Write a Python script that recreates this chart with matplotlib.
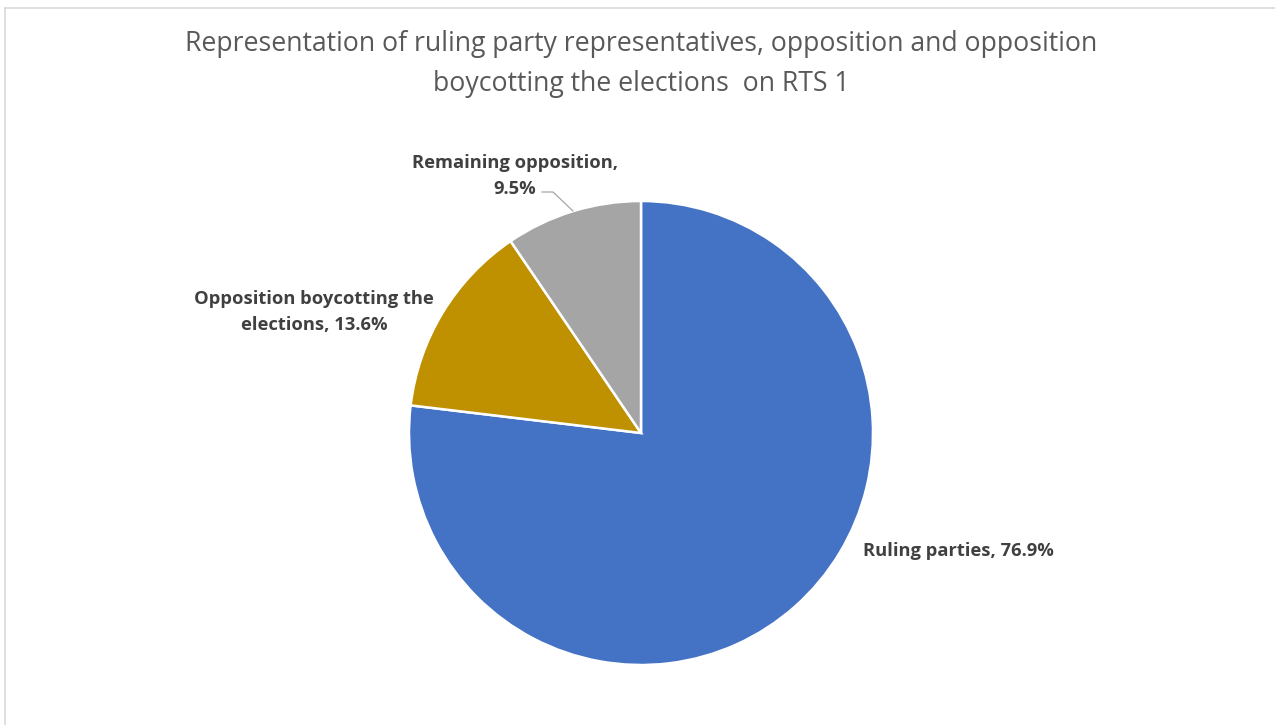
import matplotlib.pyplot as plt
from matplotlib.lines import Line2D

categories = ["Ruling parties", "Opposition boycotting the\nelections", "Remaining opposition,\n"]
shares = [76.9, 13.6, 9.5]
colors = ["#4472C4", "#BF9000", "#A5A5A5"]
title = ("Representation of ruling party representatives, opposition and opposition\n"
         "boycotting the elections  on RTS 1")

plt.rcParams['font.family'] = ['Open Sans', 'DejaVu Sans']

W, H = 1275, 725
fig = plt.figure(figsize=(W / 100, H / 100), dpi=100)
fig.patch.set_facecolor("white")

# pie centre and radius in pixels
cx, cy, r = 641, 433, 232
ax = fig.add_axes([(cx - r) / W, (H - cy - r) / H, 2 * r / W, 2 * r / H])
ax.pie(shares, colors=colors, startangle=90, counterclock=False,
       wedgeprops=dict(edgecolor="white", linewidth=1.8), radius=1)
ax.set_xlim(-1, 1)
ax.set_ylim(-1, 1)
ax.set_aspect("equal")
ax.axis("off")

lbl = dict(fontsize=13.2, fontweight="bold", color="#404040")
fig.text(863 / W, 1 - 551 / H, f"{categories[0]}, {shares[0]}%", ha="left", va="center", **lbl)
fig.text(314 / W, 1 - 312 / H, f"{categories[1]}, {shares[1]}%", ha="center", va="center",
         linespacing=1.55, **lbl)
fig.text(515 / W, 1 - 176 / H, f"{categories[2]}{shares[2]}%", ha="center", va="center",
         linespacing=1.55, **lbl)

# leader line for the small slice
fig.add_artist(Line2D([542 / W, 553 / W, 573 / W], [1 - 192 / H, 1 - 192 / H, 1 - 211 / H],
                      color="#A6A6A6", lw=0.9))

fig.text(641 / W, 1 - 64 / H, title, ha="center", va="center", fontsize=19.2,
         color="#595959", linespacing=1.55)

# chart area border (top and left visible)
fig.add_artist(Line2D([4.5 / W, 4.5 / W], [0, 1 - 7.5 / H], color="#D9D9D9", lw=1.2))
fig.add_artist(Line2D([4.5 / W, 1], [1 - 7.5 / H, 1 - 7.5 / H], color="#D9D9D9", lw=1.2))

fig.savefig("out.png", dpi=100)
